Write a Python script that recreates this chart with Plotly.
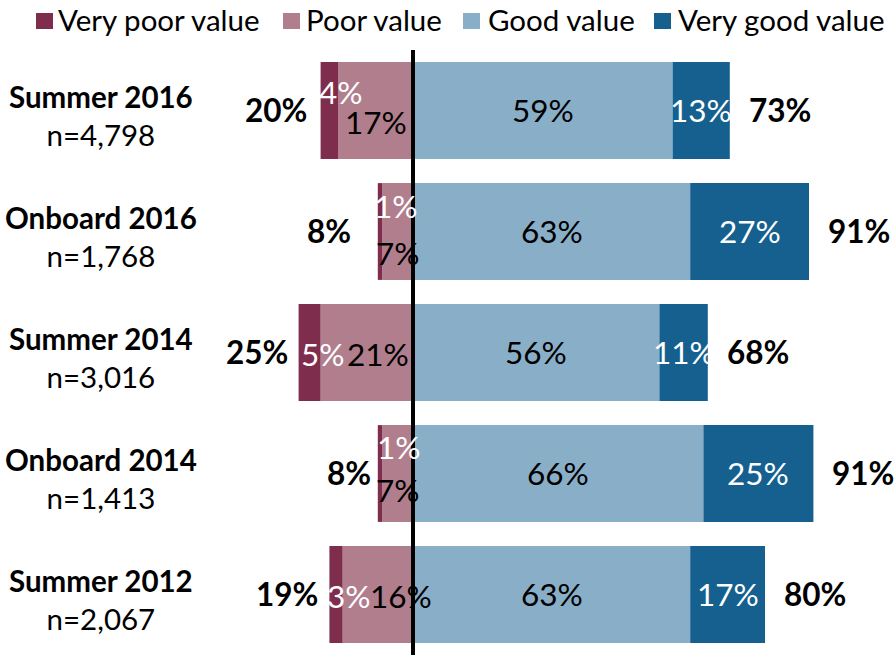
import plotly.graph_objects as go

# ---- data ----
categories = ["Summer 2016", "Onboard 2016", "Summer 2014", "Onboard 2014", "Summer 2012"]
sample_sizes = ["n=4,798", "n=1,768", "n=3,016", "n=1,413", "n=2,067"]
very_poor = [4, 1, 5, 1, 3]
poor = [17, 7, 21, 7, 16]
good = [59, 63, 56, 66, 63]
very_good = [13, 27, 11, 25, 17]
negative_totals = [20, 8, 25, 8, 19]
positive_totals = [73, 91, 68, 91, 80]
series_names = ["Very poor value", "Poor value", "Good value", "Very good value"]

# ---- style ----
COLORS = {"Very poor value": "#7F2D4C", "Poor value": "#B07E8D",
          "Good value": "#89AFC8", "Very good value": "#15608F"}
FONT = "Lato, 'Open Sans', sans-serif"
W, H = 895, 655
MT, MB = 50, 0
PLOT_H = H - MT - MB
X_RANGE = [-413 / 4.4, (W - 413) / 4.4]
LABEL_SIZE = 31.5
CAT_SIZE = 29.5

# label nudges (pixels) to mimic the original label placement
vp_dx = [12, 16, 13, 19, 13]
vp_dy = [-18, -25, 2, -26, 2]
p_dx = [0, 0, 11, 0, 23]
p_dy = [12, 22, 2, 17, 2]
neg_gap = [12, 25, 9, 5, 9]
pos_gap = 17
base_dy = -1


def py(px):  # pixel y -> paper y
    return (H - MB - px) / PLOT_H


fig = go.Figure()
fig.add_trace(go.Bar(y=categories, x=[-v for v in poor], orientation="h",
                     name="Poor value", marker=dict(color=COLORS["Poor value"], line_width=0),
                     hoverinfo="skip"))
fig.add_trace(go.Bar(y=categories, x=[-v for v in very_poor], orientation="h",
                     name="Very poor value", marker=dict(color=COLORS["Very poor value"], line_width=0),
                     hoverinfo="skip"))
fig.add_trace(go.Bar(y=categories, x=good, orientation="h",
                     name="Good value", marker=dict(color=COLORS["Good value"], line_width=0),
                     hoverinfo="skip"))
fig.add_trace(go.Bar(y=categories, x=very_good, orientation="h",
                     name="Very good value", marker=dict(color=COLORS["Very good value"], line_width=0),
                     hoverinfo="skip"))

ann = []
for i, cat in enumerate(categories):
    # category labels
    ann.append(dict(x=101 / W, xref="paper", y=cat, yref="y", yshift=-5,
                    text=f"<b>{cat}</b><br>{sample_sizes[i]}", showarrow=False,
                    align="center", xanchor="center", yanchor="middle",
                    font=dict(family=FONT, size=CAT_SIZE, color="black")))
    # very poor
    ann.append(dict(x=-(poor[i] + very_poor[i] / 2), y=cat, text=f"{very_poor[i]}%",
                    showarrow=False, xshift=vp_dx[i], yshift=-(vp_dy[i] + base_dy),
                    font=dict(family=FONT, size=LABEL_SIZE, color="white")))
    # poor
    ann.append(dict(x=-(poor[i] / 2), y=cat, text=f"{poor[i]}%",
                    showarrow=False, xshift=p_dx[i], yshift=-(p_dy[i] + base_dy),
                    font=dict(family=FONT, size=LABEL_SIZE, color="black")))
    # good
    ann.append(dict(x=good[i] / 2, y=cat, text=f"{good[i]}%", showarrow=False,
                    yshift=-base_dy,
                    font=dict(family=FONT, size=LABEL_SIZE, color="black")))
    # very good
    ann.append(dict(x=good[i] + very_good[i] / 2, y=cat, text=f"{very_good[i]}%",
                    showarrow=False, yshift=-base_dy,
                    font=dict(family=FONT, size=LABEL_SIZE, color="white")))
    # totals
    ann.append(dict(x=-(poor[i] + very_poor[i]), y=cat, text=f"<b>{negative_totals[i]}%</b>",
                    showarrow=False, xanchor="right", xshift=-neg_gap[i], yshift=-base_dy,
                    font=dict(family=FONT, size=LABEL_SIZE, color="black")))
    ann.append(dict(x=good[i] + very_good[i], y=cat, text=f"<b>{positive_totals[i]}%</b>",
                    showarrow=False, xanchor="left", xshift=pos_gap, yshift=-base_dy,
                    font=dict(family=FONT, size=LABEL_SIZE, color="black")))

# legend (custom, to match original swatch/text layout)
swatch_x = [36, 283, 463, 654]
text_x = [56, 304, 486, 676]
shapes = []
for name, sx, tx in zip(series_names, swatch_x, text_x):
    shapes.append(dict(type="rect", xref="paper", yref="paper",
                       x0=sx / W, x1=(sx + 17) / W, y0=py(29), y1=py(13),
                       fillcolor=COLORS[name], line_width=0))
    ann.append(dict(x=tx / W, xref="paper", y=py(20), yref="paper", text=name,
                    showarrow=False, xanchor="left", yanchor="middle",
                    font=dict(family=FONT, size=CAT_SIZE, color="black")))

# zero line on top of bars
shapes.append(dict(type="line", xref="x", yref="paper", x0=0, x1=0, y0=0, y1=1,
                   line=dict(color="black", width=4), layer="above"))

fig.update_layout(
    width=W, height=H, barmode="relative", bargap=0.2,
    margin=dict(l=0, r=0, t=MT, b=MB, pad=0),
    paper_bgcolor="white", plot_bgcolor="white",
    showlegend=False,
    xaxis=dict(range=X_RANGE, visible=False, showgrid=False, zeroline=False, fixedrange=True),
    yaxis=dict(autorange="reversed", visible=False, showgrid=False, fixedrange=True),
    annotations=ann, shapes=shapes,
    font=dict(family=FONT),
)

fig.write_html("out.html", config={"displayModeBar": False},
               post_script="document.body.style.margin='0';document.body.style.overflow='hidden';")
